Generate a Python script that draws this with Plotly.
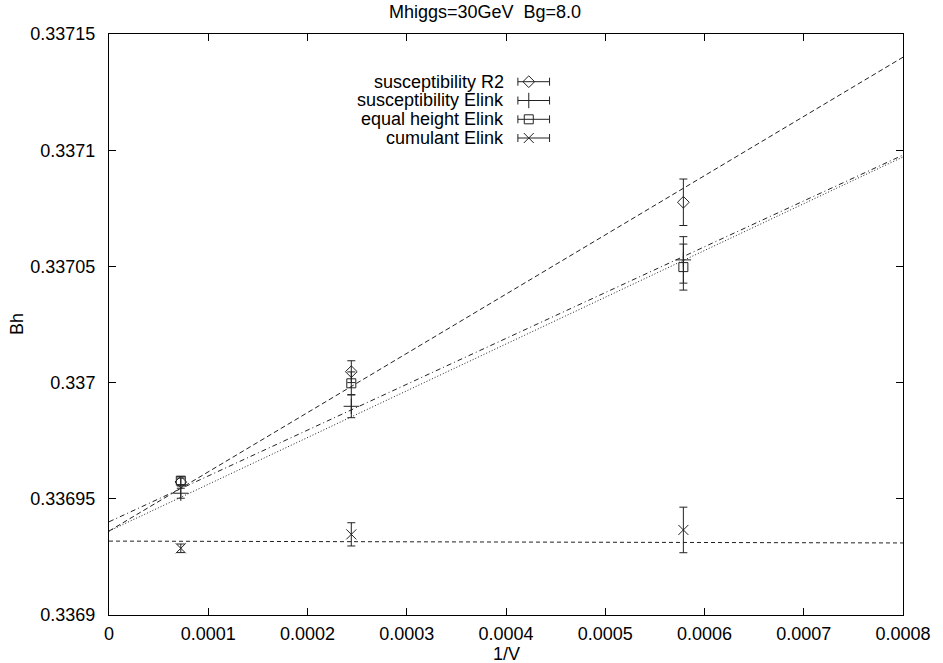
import plotly.graph_objects as go

# Inverse lattice volumes 1/V for L = 24, 16, 12
inv_volume = [1 / 13824, 1 / 4096, 1 / 1728]

series_names = ["susceptibility R2", "susceptibility Elink",
                "equal height Elink", "cumulant Elink"]

bh_r2 = [0.3369572, 0.3370047, 0.3370776]
err_r2 = [1.7e-6, 4.7e-6, 1.0e-5]
bh_susc = [0.3369524, 0.3369898, 0.3370528]
err_susc = [2.15e-6, 4.9e-6, 1.0e-5]
bh_eqh = [0.3369578, 0.3369997, 0.3370497]
err_eqh = [1.7e-6, 4.9e-6, 9.9e-6]
bh_cum = [0.3369287, 0.3369347, 0.3369366]
err_cum = [1.85e-6, 5.0e-6, 9.8e-6]

# Linear extrapolations Bh(1/V) = a + b/V
fit_intercepts = [0.3369361, 0.3369401, 0.3369361, 0.3369318]
fit_slopes = [0.2549, 0.19725, 0.20125, -0.0010]

x_ticks = [0, 0.0001, 0.0002, 0.0003, 0.0004, 0.0005, 0.0006, 0.0007, 0.0008]
x_tick_text = ["0", "0.0001", "0.0002", "0.0003", "0.0004", "0.0005",
               "0.0006", "0.0007", "0.0008"]
y_ticks = [0.3369, 0.33695, 0.337, 0.33705, 0.3371, 0.33715]
y_tick_text = ["0.3369", "0.33695", "0.337", "0.33705", "0.3371", "0.33715"]

X_MIN, X_MAX = 0.0, 0.0008
Y_MIN, Y_MAX = 0.3369, 0.33715

W, H = 943, 663
ML, MR, MT, MB = 109, 32, 34, 48
PW, PH = W - ML - MR, H - MT - MB

FONT = "Liberation Sans, Arial, Helvetica, sans-serif"
FS = 18
INK = "#222222"

values = [bh_r2, bh_susc, bh_eqh, bh_cum]
errors = [err_r2, err_susc, err_eqh, err_cum]
symbols = ["diamond-open", "cross-thin-open", "square-open", "x-thin-open"]
sizes = [9, 11, 9, 10]
dashes = ["5px,3px", "5px,3px,1px,3px", "1px,2px", "4px,3px"]

fig = go.Figure()

# fitted lines
for a, b, d in zip(fit_intercepts, fit_slopes, dashes):
    fig.add_trace(go.Scatter(
        x=[X_MIN, X_MAX], y=[a + b * X_MIN, a + b * X_MAX],
        mode="lines", line=dict(color=INK, width=1, dash=d),
        hoverinfo="skip", showlegend=False))

# data points with error bars
for name, v, e, s, sz in zip(series_names, values, errors, symbols, sizes):
    fig.add_trace(go.Scatter(
        x=inv_volume, y=v, name=name, mode="markers",
        marker=dict(symbol=s, size=sz, color=INK, line=dict(color=INK, width=1)),
        error_y=dict(type="data", array=e, visible=True, color=INK,
                     thickness=1, width=4),
        showlegend=False))


def px_x(p):
    return (p - ML) / PW


def px_y(p):
    return (H - MB - p) / PH


# key: right-aligned labels, sample error bar with marker
key_rows = [81.7, 100.5, 119.3, 138.0]
text_right, samp_l, samp_r, samp_m = 510, 522, 554, 533
annotations = []
shapes = []
for name, s, sz, ry in zip(series_names, symbols, sizes, key_rows):
    annotations.append(dict(
        x=px_x(text_right), y=px_y(ry), xref="paper", yref="paper",
        text=name, showarrow=False, xanchor="right", yanchor="middle",
        font=dict(family=FONT, size=FS, color="black")))
    shapes.append(dict(type="line", xref="paper", yref="paper",
                       x0=px_x(samp_l), x1=px_x(samp_r),
                       y0=px_y(ry), y1=px_y(ry),
                       line=dict(color=INK, width=1)))
    for cx in (samp_l, samp_r):
        shapes.append(dict(type="line", xref="paper", yref="paper",
                           x0=px_x(cx), x1=px_x(cx),
                           y0=px_y(ry - 4), y1=px_y(ry + 4),
                           line=dict(color=INK, width=1)))
    fig.add_trace(go.Scatter(
        x=[px_x(samp_m)], y=[px_y(ry)], xaxis="x2", yaxis="y2",
        mode="markers",
        marker=dict(symbol=s, size=sz, color=INK, line=dict(color=INK, width=1)),
        hoverinfo="skip", showlegend=False))

annotations.append(dict(
    x=px_x(489), y=px_y(12), xref="paper", yref="paper",
    text="Mhiggs=30GeV  Bg=8.0", showarrow=False,
    xanchor="center", yanchor="middle",
    font=dict(family=FONT, size=FS, color="black")))
annotations.append(dict(
    x=px_x(510), y=px_y(654), xref="paper", yref="paper",
    text="1/V", showarrow=False, xanchor="center", yanchor="middle",
    font=dict(family=FONT, size=FS, color="black")))
annotations.append(dict(
    x=px_x(16), y=px_y(324), xref="paper", yref="paper",
    text="Bh", showarrow=False, textangle=-90,
    xanchor="center", yanchor="middle",
    font=dict(family=FONT, size=FS, color="black")))

axis_common = dict(
    showgrid=False, zeroline=False, showline=True, linecolor="black",
    linewidth=1, mirror="ticks", ticks="inside", ticklen=7,
    tickcolor="black", tickwidth=1,
    tickfont=dict(family=FONT, size=FS, color="black"))

fig.update_layout(
    width=W, height=H,
    margin=dict(l=ML, r=MR, t=MT, b=MB, pad=0),
    paper_bgcolor="white", plot_bgcolor="white",
    xaxis=dict(range=[X_MIN, X_MAX], tickvals=x_ticks, ticktext=x_tick_text,
               ticklabelstandoff=2, **axis_common),
    yaxis=dict(range=[Y_MIN, Y_MAX], tickvals=y_ticks, ticktext=y_tick_text,
               ticklabelstandoff=9, **axis_common),
    xaxis2=dict(range=[0, 1], overlaying="x", visible=False),
    yaxis2=dict(range=[0, 1], overlaying="y", visible=False),
    annotations=annotations, shapes=shapes,
    showlegend=False,
)

fig.write_html("out.html")
